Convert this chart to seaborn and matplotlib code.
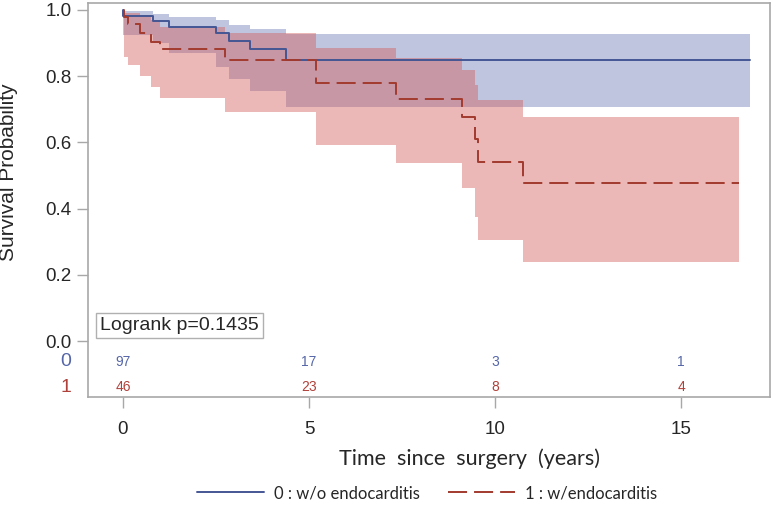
import pandas as pd
import seaborn as sns
from matplotlib import pyplot as plt
from matplotlib import transforms

# Kaplan-Meier steps
blue_t = [0, 0.01, 0.80, 1.25, 2.50, 2.85, 3.41, 4.37, 16.85]
blue_s = [1.0, 0.983, 0.968, 0.950, 0.930, 0.906, 0.881, 0.849, 0.849]
blue_lo = [0.924, 0.924, 0.900, 0.870, 0.829, 0.792, 0.756, 0.706, 0.706]
blue_hi = [1.0, 0.997, 0.987, 0.980, 0.970, 0.955, 0.943, 0.928, 0.928]

red_t = [0, 0.03, 0.14, 0.46, 0.75, 1.0, 2.74, 5.2, 7.33, 9.10, 9.46, 9.55, 10.76, 16.55]
red_s = [1.0, 0.978, 0.958, 0.931, 0.904, 0.881, 0.849, 0.778, 0.731, 0.678, 0.610, 0.542, 0.476, 0.476]
red_lo = [1.0, 0.859, 0.834, 0.801, 0.766, 0.733, 0.691, 0.592, 0.537, 0.461, 0.376, 0.305, 0.240, 0.240]
red_hi = [1.0, 0.990, 0.990, 0.985, 0.970, 0.950, 0.930, 0.884, 0.854, 0.819, 0.773, 0.728, 0.676, 0.676]

risk_times = [0, 5, 10, 15]
risk_0 = [97, 17, 3, 1]
risk_1 = [46, 23, 8, 4]

lab0 = "0 : w/o endocarditis"
lab1 = "1 : w/endocarditis"
c_blue = "#445694"
c_red = "#A23A2E"

df = pd.concat([
    pd.DataFrame({"t": blue_t, "s": blue_s, "group": lab0}),
    pd.DataFrame({"t": red_t, "s": red_s, "group": lab1}),
])

sns.set_style("white")
plt.rcParams["font.family"] = ["Liberation Sans", "DejaVu Sans"]

fig = plt.figure(figsize=(7.75, 5.12), dpi=100)
ax = fig.add_axes([88 / 775, 1 - 397 / 512, 682 / 775, 394 / 512])

# bands
ax.fill_between(blue_t, blue_lo, blue_hi, step="post", color=(115/255, 128/255, 186/255), alpha=0.45, lw=0)
ax.fill_between(red_t, red_lo, red_hi, step="post", color=(211/255, 97/255, 97/255), alpha=0.45, lw=0)

sns.lineplot(data=df, x="t", y="s", hue="group", style="group",
             palette={lab0: c_blue, lab1: c_red},
             dashes={lab0: "", lab1: (9.8, 3.6)},
             drawstyle="steps-post", estimator=None, lw=1.4, ax=ax)

ax.set_xlim(-0.94, 17.39)
ax.set_ylim(-0.169, 1.021)
ax.set_xticks([0, 5, 10, 15])
ax.set_yticks([0.0, 0.2, 0.4, 0.6, 0.8, 1.0])
ax.set_yticklabels(["0.0", "0.2", "0.4", "0.6", "0.8", "1.0"])
ax.tick_params(axis="both", bottom=True, left=True, length=8, width=1, color="#a8a8a8",
               labelsize=13.5, pad=4, direction="out")
ax.tick_params(axis="x", pad=9)
for sp in ax.spines.values():
    sp.set_color("#a8a8a8")
    sp.set_linewidth(1.2)

ax.set_xlabel("Time  since  surgery  (years)", fontsize=15.5, family=["Lato", "DejaVu Sans"])
ax.xaxis.set_label_coords(0.559, -0.13)
ax.set_ylabel("Survival Probability", fontsize=15)
ax.yaxis.set_label_coords(-0.103, 0.571)

# at-risk table
for t, n0, n1 in zip(risk_times, risk_0, risk_1):
    ax.text(t, -0.063, str(n0), color="#5566a8", fontsize=10, ha="center", va="center")
    ax.text(t, -0.139, str(n1), color="#b0413a", fontsize=10, ha="center", va="center")
trans = transforms.blended_transform_factory(ax.transAxes, ax.transData)
ax.text(-0.025, -0.063, "0", color="#5566a8", fontsize=14, ha="right", va="center", transform=trans)
ax.text(-0.025, -0.139, "1", color="#b0413a", fontsize=14, ha="right", va="center", transform=trans)

ax.text(0.0176, 0.181, "Logrank p=0.1435", fontsize=14, ha="left", va="center", transform=ax.transAxes,
        bbox=dict(boxstyle="square,pad=0.22", fc="white", ec="#b0b0b0", lw=1))

sns.move_legend(ax, "center", bbox_to_anchor=(0.551, 0.037), bbox_transform=fig.transFigure,
                ncol=2, frameon=False, title=None, handlelength=4.0,
                columnspacing=1.7, handletextpad=0.6, prop={"family": ["Lato", "DejaVu Sans"], "size": 12})

fig.savefig("out.png", dpi=100)
